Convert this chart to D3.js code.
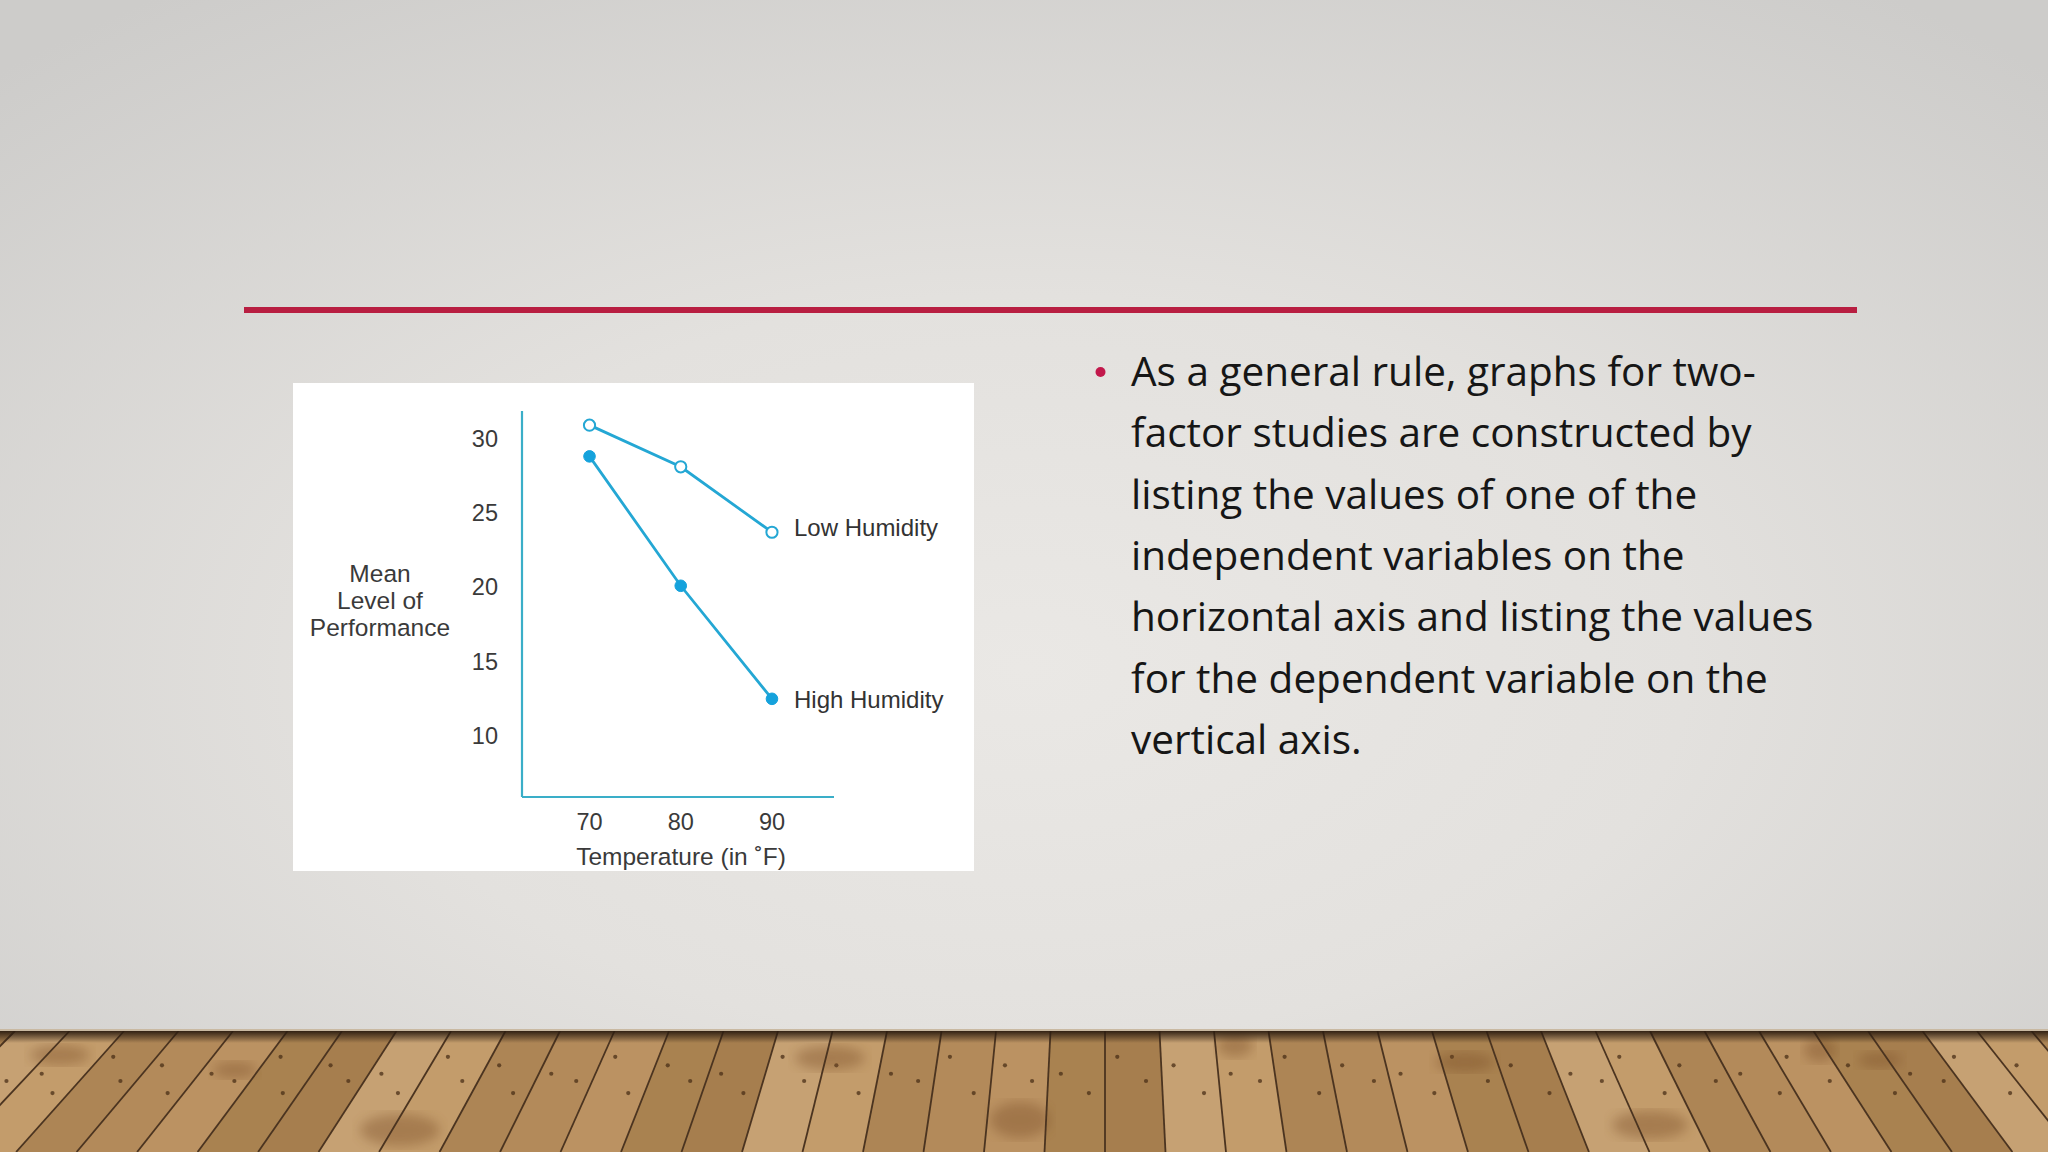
<!DOCTYPE html>
<html>
<head>
<meta charset="utf-8">
<script src="https://cdn.jsdelivr.net/npm/d3@7"></script>
<style>
  html, body { margin: 0; padding: 0; overflow: hidden; }
  svg { display: block; }
</style>
</head>
<body>
<svg id="slide" width="2048" height="1152"></svg>
<script>
// chart values
var temps = [70, 80, 90];
var lowHumidity = [30.9, 28.1, 23.7];
var highHumidity = [28.8, 20.1, 12.5];
var yTicks = [10, 15, 20, 25, 30];
var seriesNames = ['Low Humidity', 'High Humidity'];
var yTitle = ['Mean', 'Level of', 'Performance'];
var xTitle = 'Temperature (in \u02daF)';

var bulletLines = [
    'As a general rule, graphs for two-',
    'factor studies are constructed by',
    'listing the values of one of the',
    'independent variables on the',
    'horizontal axis and listing the values',
    'for the dependent variable on the',
    'vertical axis.'
];

var svg = d3.select('#slide');
var defs = svg.append('defs');

// slide background
var bg = defs.append('radialGradient').attr('id', 'bg')
    .attr('cx', '50%').attr('cy', '58%').attr('r', '72%');
bg.append('stop').attr('offset', '0%').attr('stop-color', '#eae8e5');
bg.append('stop').attr('offset', '45%').attr('stop-color', '#e3e1de');
bg.append('stop').attr('offset', '100%').attr('stop-color', '#cdccca');
svg.append('rect').attr('width', 2048).attr('height', 1152).attr('fill', 'url(#bg)');

// wood floor
function drawFloor(){
    var top = 1031, bottom = 1152;
    var vx = 1105, f = 1.11, step = 54.5;
    var g = svg.append('g').attr('class', 'floor');
    var plankColors = ['#b38a5a', '#c39c6b', '#a67e4e', '#bb9262', '#ad8555', '#c6a173', '#a98250'];
    g.append('rect').attr('x', 0).attr('y', top).attr('width', 2048).attr('height', bottom - top)
        .attr('fill', '#b08756');
    var seams = [];
    for (var k = -24; k <= 24; k++){
        var xt = vx + k*step;
        seams.push([xt, vx + (xt - vx)*f]);
    }
    for (var i = 0; i < seams.length - 1; i++){
        var a = seams[i], b = seams[i+1];
        g.append('polygon')
            .attr('points', [[a[0], top], [b[0], top], [b[1], bottom], [a[1], bottom]].join(' '))
            .attr('fill', plankColors[(i*3) % plankColors.length]);
        // nails
        var t1 = 0.42 + 0.14*((i % 3)/2), t2 = 0.62 + 0.1*((i % 2));
        [[0.22, t1], [0.72, t2]].forEach(function(p){
            var yy = top + p[1]*(bottom-top) - 25;
            var s = (yy - top)/(bottom - top);
            var xl = a[0] + (a[1]-a[0])*s, xr = b[0] + (b[1]-b[0])*s;
            g.append('circle').attr('cx', xl + (xr-xl)*p[0]).attr('cy', yy).attr('r', 2.1)
                .attr('fill', '#4a2f17').attr('opacity', 0.75);
        });
    }
    // grain blotches
    var blur = defs.append('filter').attr('id', 'soft');
    blur.append('feGaussianBlur').attr('stdDeviation', 6);
    [[60, 1055, 30, 10], [235, 1070, 22, 8], [830, 1058, 35, 12], [1235, 1045, 18, 12], [1465, 1062, 30, 10],
     [1820, 1050, 16, 12], [1880, 1060, 22, 8], [1020, 1120, 30, 18], [400, 1130, 40, 16], [1650, 1125, 38, 14]]
    .forEach(function(e){
        g.append('ellipse').attr('cx', e[0]).attr('cy', e[1]).attr('rx', e[2]).attr('ry', e[3])
            .attr('fill', '#7a4e25').attr('opacity', 0.4).attr('filter', 'url(#soft)');
    });
    seams.forEach(function(s){
        g.append('line').attr('x1', s[0]).attr('y1', top).attr('x2', s[1]).attr('y2', bottom)
            .attr('stroke', '#4b3420').attr('stroke-width', 1.8);
    });
    // shadow at the wall edge
    var sh = defs.append('linearGradient').attr('id', 'shade').attr('x1', 0).attr('y1', 0).attr('x2', 0).attr('y2', 1);
    sh.append('stop').attr('offset', '0%').attr('stop-color', '#2b1c10').attr('stop-opacity', 0.95);
    sh.append('stop').attr('offset', '100%').attr('stop-color', '#2b1c10').attr('stop-opacity', 0);
    g.append('rect').attr('x', 0).attr('y', top).attr('width', 2048).attr('height', 12).attr('fill', 'url(#shade)');
    g.append('rect').attr('x', 0).attr('y', top - 2).attr('width', 2048).attr('height', 2).attr('fill', '#c9b9a2');
}
drawFloor();

// red rule
svg.append('rect').attr('x', 244).attr('y', 307).attr('width', 1613).attr('height', 6).attr('fill', '#b81e41');

// chart panel
function drawChart(){
    var g = svg.append('g').attr('class', 'chart');
    g.append('rect').attr('x', 293).attr('y', 383).attr('width', 681).attr('height', 488).attr('fill', '#ffffff');

    var x = d3.scaleLinear().domain([62.6, 96.8]).range([522, 834]);
    var y = d3.scaleLinear().domain([5.9, 31.85]).range([797, 411]);
    var axisColor = '#3aaec8';
    var lineColor = '#24a7d4';
    var font = '"Liberation Sans", Arial, sans-serif';

    g.append('line').attr('x1', x.range()[0]).attr('x2', x.range()[0])
        .attr('y1', y.range()[1]).attr('y2', y.range()[0])
        .attr('stroke', axisColor).attr('stroke-width', 2.2);
    g.append('line').attr('x1', x.range()[0]).attr('x2', x.range()[1])
        .attr('y1', y.range()[0]).attr('y2', y.range()[0])
        .attr('stroke', axisColor).attr('stroke-width', 2.2);

    g.selectAll('.ytick').data(yTicks).enter().append('text').attr('class', 'ytick')
        .attr('x', 498).attr('y', function(d){ return y(d) + 8; })
        .attr('text-anchor', 'end').attr('font-family', font).attr('font-size', 23.5)
        .attr('fill', '#3a3a3a').text(function(d){ return d; });

    g.selectAll('.xtick').data(temps).enter().append('text').attr('class', 'xtick')
        .attr('x', function(d){ return x(d); }).attr('y', 830)
        .attr('text-anchor', 'middle').attr('font-family', font).attr('font-size', 23.5)
        .attr('fill', '#3a3a3a').text(function(d){ return d; });

    g.append('text').attr('x', 681).attr('y', 865).attr('text-anchor', 'middle')
        .attr('font-family', font).attr('font-size', 24.5).attr('fill', '#3a3a3a').text(xTitle);

    g.selectAll('.ytitle').data(yTitle).enter().append('text').attr('class', 'ytitle')
        .attr('x', 380).attr('y', function(d, i){ return 582 + i*27; })
        .attr('text-anchor', 'middle').attr('font-family', font).attr('font-size', 24.5)
        .attr('fill', '#3a3a3a').text(function(d){ return d; });

    var line = d3.line().x(function(d){ return x(d[0]); }).y(function(d){ return y(d[1]); });
    var series = [
        {name: seriesNames[0], vals: d3.zip(temps, lowHumidity), open: true, dy: 4},
        {name: seriesNames[1], vals: d3.zip(temps, highHumidity), open: false, dy: 9}
    ];
    series.forEach(function(s){
        g.append('path').attr('d', line(s.vals)).attr('fill', 'none')
            .attr('stroke', lineColor).attr('stroke-width', 2.8);
        g.selectAll(null).data(s.vals).enter().append('circle')
            .attr('cx', function(d){ return x(d[0]); }).attr('cy', function(d){ return y(d[1]); })
            .attr('r', s.open ? 5.6 : 5.8)
            .attr('fill', s.open ? '#ffffff' : '#15a2dc')
            .attr('stroke', s.open ? lineColor : '#15a2dc').attr('stroke-width', s.open ? 2 : 1);
        var last = s.vals[s.vals.length - 1];
        g.append('text').attr('x', 794).attr('y', y(last[1]) + s.dy)
            .attr('font-family', font).attr('font-size', 24).attr('fill', '#333333').text(s.name);
    });
}
drawChart();

// bullet text
function drawText(){
    var g = svg.append('g').attr('class', 'bullets');
    g.append('circle').attr('cx', 1100.5).attr('cy', 372).attr('r', 5).attr('fill', '#c2184b');
    g.selectAll('text').data(bulletLines).enter().append('text')
        .attr('x', 1131).attr('y', function(d, i){ return 386 + i*61.3; })
        .attr('font-family', '"Open Sans", Lato, sans-serif').attr('font-size', 40.5)
        .attr('fill', '#161616').text(function(d){ return d; });
}
drawText();
</script>
</body>
</html>
